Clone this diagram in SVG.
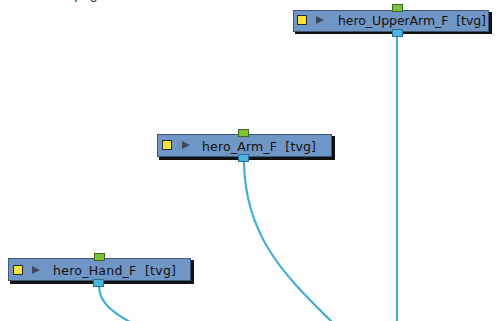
<svg xmlns="http://www.w3.org/2000/svg" width="500" height="321" viewBox="0 0 500 321">
<style>
.shadow{fill:#111}
.box{fill:#7096c6;stroke:#3d5474;stroke-width:1}
.sq{fill:#f5e23a;stroke:#2a2a2a;stroke-width:1}
.tri{fill:#3c4a60}
.inp{fill:#7cc13a;stroke:#3f6a1a;stroke-width:1}
.out{fill:#4db3e0;stroke:#2a6f96;stroke-width:1}
.lbl{font-family:"DejaVu Sans","Liberation Sans",sans-serif;font-size:12.5px;fill:#111}
.wire{fill:none;stroke:#45aed6;stroke-width:2.2}
.top{font-family:"Liberation Sans",sans-serif;font-size:14px;fill:#333}
</style>
<rect width="500" height="321" fill="#ffffff"/>
<text class="top" x="40" y="-1">Hero page</text>
<g id="connectors">
<path class="wire" d="M397,36 L397,322"/>
<path class="wire" d="M244,162 C245,240 290,280 333,323"/>
<path class="wire" d="M99,286 C99,302 112,312 130,322"/>
</g>
<g id="node-upperarm">
<rect class="shadow" x="295" y="12" width="197" height="22"/>
<rect class="box" x="293.5" y="10.5" width="195" height="21"/>
<rect class="inp" x="392.5" y="4.5" width="10" height="7"/>
<rect class="out" x="392.5" y="29.5" width="10" height="7"/>
<rect class="sq" x="297.5" y="15.5" width="9" height="9"/>
<path class="tri" d="M316,16 L324,20 L316,24 Z"/>
<text class="lbl" x="338" y="25" xml:space="preserve" textLength="148">hero_UpperArm_F  [tvg]</text>
</g>
<g id="node-arm">
<rect class="shadow" x="159" y="136" width="176" height="24"/>
<rect class="box" x="157.5" y="134.5" width="174" height="22"/>
<rect class="inp" x="238.5" y="129.5" width="10" height="7"/>
<rect class="out" x="238.5" y="154.5" width="10" height="7"/>
<rect class="sq" x="162.5" y="140.5" width="9" height="9"/>
<path class="tri" d="M182,141 L190,145 L182,149 Z"/>
<text class="lbl" x="202" y="151" xml:space="preserve" textLength="114">hero_Arm_F  [tvg]</text>
</g>
<g id="node-hand">
<rect class="shadow" x="10" y="260" width="184" height="24"/>
<rect class="box" x="8.5" y="258.5" width="182" height="22"/>
<rect class="inp" x="94.5" y="253.5" width="10" height="7"/>
<rect class="out" x="93.5" y="279.5" width="10" height="7"/>
<rect class="sq" x="13.5" y="265.5" width="9" height="9"/>
<path class="tri" d="M32,266 L40,270 L32,274 Z"/>
<text class="lbl" x="53" y="275" xml:space="preserve" textLength="123">hero_Hand_F  [tvg]</text>
</g>
</svg>
